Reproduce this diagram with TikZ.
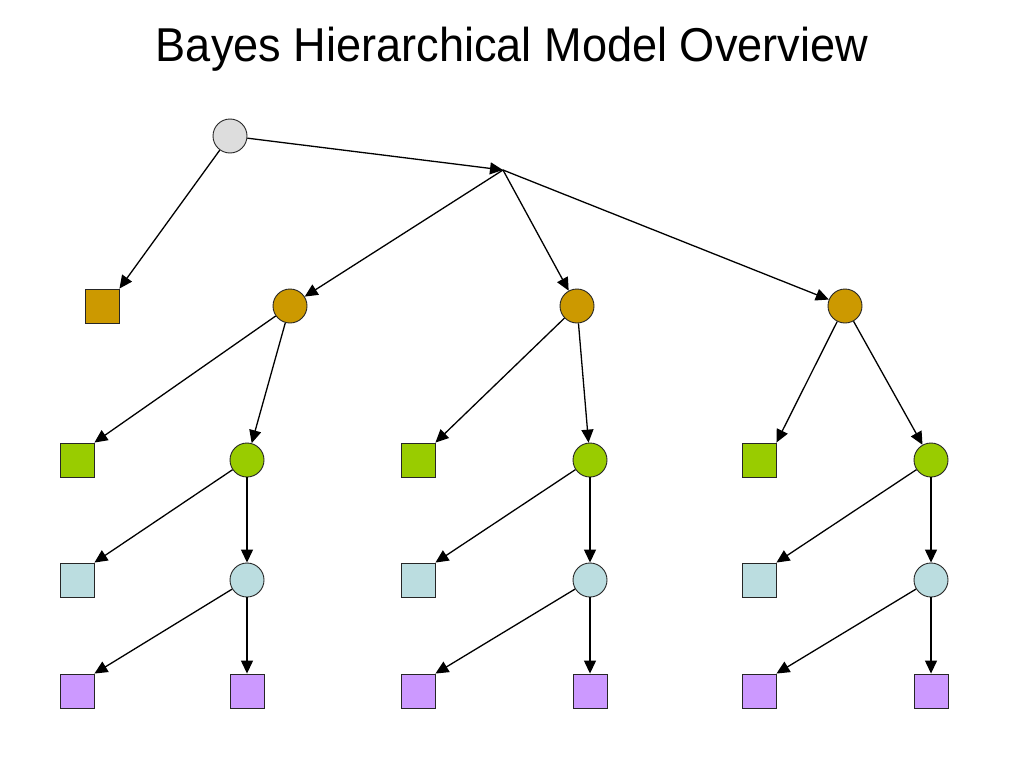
\documentclass[tikz,border=0pt]{standalone}
\usepackage{fontspec}
\setmainfont{Liberation Sans}
\usetikzlibrary{arrows.meta}
\definecolor{cgray}{HTML}{DDDDDD}
\definecolor{corange}{HTML}{CC9900}
\definecolor{cgreen}{HTML}{99CC00}
\definecolor{cblue}{HTML}{BBDDE0}
\definecolor{cpurple}{HTML}{CC99FF}
\begin{document}
\begin{tikzpicture}[x=1pt,y=-1pt,
  circ/.style={circle,draw=black!85,line width=0.9pt,minimum size=34pt,inner sep=0pt},
  sq/.style={rectangle,draw=black!85,line width=0.9pt,minimum size=34pt,inner sep=0pt},
  arr/.style={line width=1.3pt,-{Triangle[length=13pt,width=12pt]}}]
\useasboundingbox (0,0) rectangle (1024,768);
\node[font=\fontsize{47.5}{52}\selectfont,xscale=0.95,anchor=base,inner sep=0pt] (title) at (512,62) {Bayes Hierarchical Model Overview};
\node[circ,fill=cgray] (root) at (230,136) {};
\coordinate (j) at (503,170);
\node[sq,fill=corange] (os) at (102,306) {};
\node[circ,fill=corange] (o1) at (290,306) {};
\node[circ,fill=corange] (o2) at (577,306) {};
\node[circ,fill=corange] (o3) at (845,306) {};
% group 1
\node[sq,fill=cgreen] (g1s) at (77,460) {};
\node[circ,fill=cgreen] (g1c) at (247,460) {};
\node[sq,fill=cblue] (b1s) at (77,580) {};
\node[circ,fill=cblue] (b1c) at (247,580) {};
\node[sq,fill=cpurple] (p1a) at (77,691) {};
\node[sq,fill=cpurple] (p1b) at (247,691) {};
% group 2
\node[sq,fill=cgreen] (g2s) at (418,460) {};
\node[circ,fill=cgreen] (g2c) at (590,460) {};
\node[sq,fill=cblue] (b2s) at (418,580) {};
\node[circ,fill=cblue] (b2c) at (590,580) {};
\node[sq,fill=cpurple] (p2a) at (418,691) {};
\node[sq,fill=cpurple] (p2b) at (590,691) {};
% group 3
\node[sq,fill=cgreen] (g3s) at (759,460) {};
\node[circ,fill=cgreen] (g3c) at (931,460) {};
\node[sq,fill=cblue] (b3s) at (759,580) {};
\node[circ,fill=cblue] (b3c) at (931,580) {};
\node[sq,fill=cpurple] (p3a) at (759,691) {};
\node[sq,fill=cpurple] (p3b) at (931,691) {};
% connectors
\draw[arr] (root) -- (j);
\draw[arr] (root) -- (os.north east);
\draw[arr] (j) -- (o1);
\draw[arr] (j) -- (o2);
\draw[arr] (j) -- (o3);
\foreach \i in {1,2,3}{
  \draw[arr] (o\i) -- (g\i s.north east);
  \draw[arr] (o\i) -- (g\i c);
  \draw[arr] (g\i c) -- (b\i s.north east);
  \draw[arr] (g\i c) -- (b\i c);
  \draw[arr] (b\i c) -- (p\i a.north east);
  \draw[arr] (b\i c) -- (p\i b);
}
\end{tikzpicture}
\end{document}
